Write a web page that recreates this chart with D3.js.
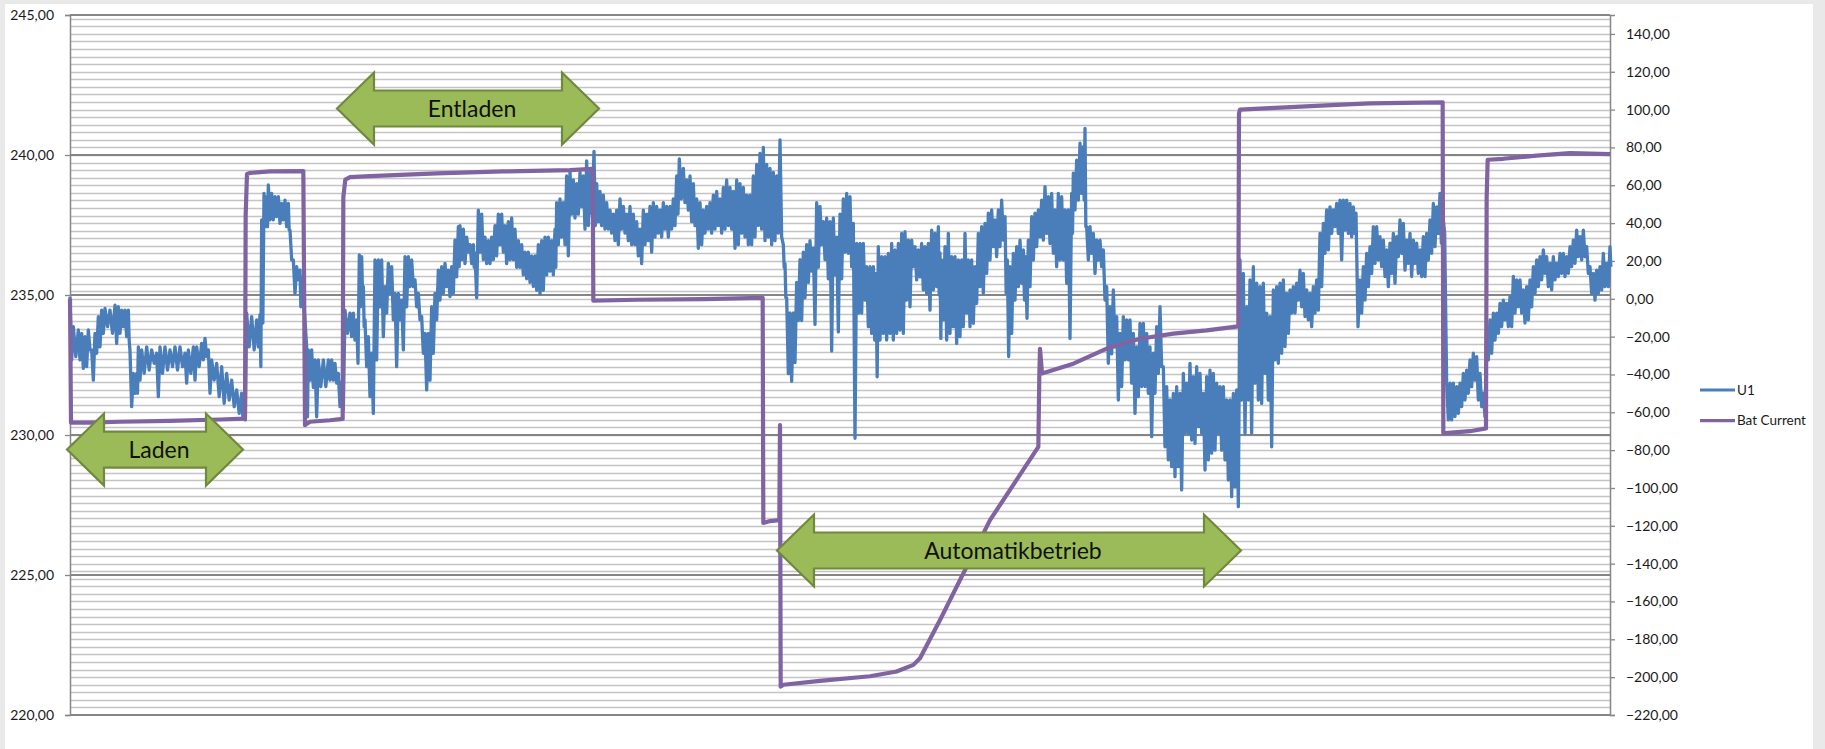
<!DOCTYPE html>
<html><head><meta charset="utf-8">
<script src="https://cdn.jsdelivr.net/npm/d3@7"></script>
<style>html,body{margin:0;padding:0;background:#e9e9e9;}svg{display:block}</style>
</head><body><svg id="c" width="1825" height="749"></svg>
<script>
// ---------- DATA ----------
const leftTicks = [220, 225, 230, 235, 240, 245];
const rightTicks = [-220,-200,-180,-160,-140,-120,-100,-80,-60,-40,-20,0,20,40,60,80,100,120,140];
const seriesNames = ["U1", "Bat Current"];
const sampleCount = 4620;

// U1 readings: [sample, upper envelope, lower envelope] (V)
const u1Readings = [
[0,234.94,232.68],[10,233.87,232.80],[25,233.75,232.68],[35,233.63,232.38],[45,233.51,232.44],[55,233.75,233.04],[65,233.04,231.96],[75,233.63,232.92],[85,234.23,233.15],[95,234.46,233.63],[105,234.52,233.87],[120,234.46,233.63],[135,234.64,233.27],[145,234.58,233.63],[155,234.46,233.87],[165,234.46,233.51],[175,234.46,233.39],[180,233.0,231.01],[190,232.20,231.49],[200,232.20,231.49],[205,233.15,231.96],[215,233.04,232.20],[230,233.15,232.32],[245,233.04,232.56],[260,232.92,231.37],[270,233.15,232.20],[285,233.15,232.32],[300,233.04,232.44],[315,233.15,232.32],[330,233.15,232.44],[345,232.92,231.85],[355,233.04,232.20],[370,233.15,231.96],[380,233.15,232.44],[395,233.27,232.68],[405,233.45,232.80],[415,233.04,231.49],[425,232.68,231.96],[440,232.56,231.37],[455,232.44,231.13],[470,232.20,231.25],[485,231.96,231.01],[500,231.61,230.77],[515,231.49,230.65],[522,231.3,230.54],
[530,234.35,233.15],[545,234.23,233.04],[560,234.11,233.15],[570,234.3,232.44],[575,237.68,234.0],[582,238.63,237.44],[590,238.51,237.44],[595,238.93,237.68],[605,238.63,237.68],[615,238.51,237.80],[625,238.51,237.56],[635,238.27,237.68],[645,238.39,237.44],[655,238.27,237.32],[660,237.32,236.25],[670,236.25,235.06],[680,236.01,235.54],[690,235.89,234.58],[695,235.65,234.58],
[710,233.15,230.65],[715,233.04,231.96],[725,233.04,231.70],[735,232.68,230.65],[745,232.68,231.73],[760,232.68,231.73],[775,232.68,231.96],[785,232.68,231.96],[795,232.56,231.85],[805,232.20,231.01],[815,231.90,230.89],
[825,234.46,233.63],[840,234.35,233.51],[850,234.35,233.39],[860,234.11,232.56],[868,236.43,234.58],[875,236.37,235.06],[880,235.30,233.87],[885,234.11,232.44],[895,233.51,231.37],[905,232.92,230.77],[915,236.25,232.68],[925,236.25,234.58],[935,236.25,233.51],[945,235.30,234.35],[955,236.13,235.06],[965,236.01,234.11],[975,235.06,232.44],[985,235.06,234.11],[995,234.82,233.04],[1005,236.37,234.58],[1015,236.37,235.30],[1025,236.25,235.30],[1035,235.54,234.58],[1045,235.06,234.11],[1055,234.23,232.92],[1065,233.63,231.61],[1075,233.63,231.96],[1085,234.58,232.92],[1095,235.06,234.11],[1105,235.89,234.82],[1115,236.01,235.06],[1125,236.13,235.30],[1135,235.89,234.94],[1145,236.01,235.06],[1155,236.96,235.65],[1165,237.44,236.01],
[1170,237.48,236.26],[1180,237.35,236.12],[1190,237.07,236.53],[1200,236.80,236.12],[1210,236.80,235.99],[1215,236.5,234.90],[1225,238.03,236.53],[1235,237.89,236.26],[1245,237.07,236.12],[1255,236.94,236.12],[1265,237.07,236.26],[1275,237.48,236.40],[1285,237.89,236.80],[1295,237.89,236.53],[1305,237.48,236.12],[1315,237.62,236.26],[1325,237.75,236.26],[1335,237.35,235.99],[1345,236.94,235.99],[1355,236.80,235.72],[1365,236.53,235.58],[1375,236.53,235.45],[1385,236.40,235.31],[1395,236.40,235.17],[1405,236.80,235.04],[1415,236.94,235.17],[1425,237.07,235.72],[1435,237.07,235.85],[1445,236.94,235.72],[1455,237.35,235.99],[1460,238.30,236.80],[1470,238.43,237.07],[1480,238.30,236.80],[1490,239.25,236.40],[1500,239.38,237.89],[1510,239.11,237.75],[1520,238.98,237.89],[1530,239.38,238.16],[1540,239.25,237.35],[1550,239.79,237.48],[1560,239.38,237.89],[1572,240.13,237.48],[1580,238.98,237.62],[1590,238.70,237.48],[1600,238.57,237.35],[1610,238.30,237.35],[1620,238.03,237.21],[1630,237.89,236.94],[1640,238.03,236.80],[1650,238.43,237.35],[1660,238.16,237.21],[1670,237.89,236.94],[1680,238.16,236.80],[1690,237.89,236.80],[1700,237.62,236.40],[1710,237.35,236.12],[1720,238.03,236.80],[1730,237.89,236.94],[1740,238.16,236.53],[1750,238.30,237.07],[1760,238.16,237.21],[1770,238.03,237.07],[1780,238.30,237.35],[1790,238.16,237.07],[1800,238.16,237.35],[1810,238.43,237.48],[1820,239.25,237.89],[1828,239.86,238.43],[1840,239.52,238.30],[1850,239.11,238.03],[1860,239.25,237.62],[1870,238.98,237.48],[1880,238.43,236.67],[1890,238.30,236.80],[1900,238.03,237.21],[1910,238.16,237.35],[1920,238.30,237.21],[1930,238.57,237.35],[1940,238.70,237.48],[1950,238.43,237.21],[1960,238.84,237.35],[1970,239.11,237.48],[1980,238.84,237.35],[1990,238.70,236.67],[2000,239.11,236.80],[2010,238.98,237.21],[2020,238.84,237.07],[2030,238.57,236.80],[2040,238.57,236.80],[2050,239.25,237.07],[2060,239.66,237.48],[2070,240.06,237.35],[2080,240.27,236.94],[2090,239.66,237.07],[2100,239.52,236.80],[2110,239.38,236.94],[2120,239.25,237.21],[2130,240.54,237.07],[2140,236.80,235.99],[2145,236.12,234.90],[2150,234.90,232.19],[2160,234.36,231.92],[2170,234.36,232.59],[2180,235.45,234.09],[2190,236.26,234.09],[2200,236.53,234.90],[2210,236.80,235.45],[2220,236.94,235.85],[2230,236.67,233.95],[2240,238.30,235.99],[2250,238.16,236.80],[2260,237.62,236.26],[2270,237.75,235.58],[2280,237.62,233.00],[2290,237.75,235.72],[2300,237.07,233.68],[2310,237.89,235.58],[2320,238.43,236.53],
[2330,238.63,236.49],[2340,238.51,236.01],[2350,237.56,229.88],[2360,236.84,234.35],[2370,236.84,234.35],[2380,236.84,234.82],[2390,236.01,233.87],[2400,236.01,233.63],[2410,236.01,233.39],[2418,235.77,232.08],[2425,236.73,233.39],[2435,236.37,233.63],[2445,236.37,233.39],[2455,236.49,233.63],[2465,236.84,233.39],[2475,236.61,233.63],[2485,236.84,233.75],[2495,237.20,233.63],[2505,237.26,234.82],[2515,236.96,234.58],[2525,236.96,236.01],[2535,236.73,235.54],[2545,236.61,235.65],[2555,236.84,235.18],[2565,236.73,235.06],[2575,236.84,234.46],[2585,237.32,235.18],[2595,237.20,235.30],[2605,237.44,235.0],[2610,236.5,233.45],[2615,236.25,234.11],[2625,236.73,233.39],[2635,237.20,233.63],[2645,236.37,233.87],[2655,236.37,233.27],[2665,236.25,233.51],[2675,236.25,233.87],[2685,237.20,234.35],[2695,236.25,233.87],[2705,236.25,233.99],[2715,236.01,234.70],[2725,237.20,235.30],[2735,237.44,235.06],[2745,237.56,235.77],[2755,237.92,236.25],[2765,238.04,236.73],[2775,237.68,236.37],[2785,238.04,236.73],[2795,238.39,236.96],[2805,237.80,235.06],[2812,236.25,232.80],[2820,236.01,233.63],[2830,236.49,234.82],[2840,236.73,235.30],[2850,236.96,235.42],[2860,236.61,234.82],[2867,236.37,234.17],[2875,236.96,235.30],[2885,237.80,236.25],[2895,237.92,236.73],[2905,238.04,237.08],[2915,238.39,236.96],[2925,238.87,237.20],[2935,238.51,236.84],[2945,238.63,236.49],[2955,238.04,236.01],[2965,238.63,236.25],[2975,238.51,236.25],[2985,238.04,235.42],[2995,238.04,233.45],[3005,238.63,237.20],[3010,239.35,238.04],[3020,239.82,238.39],[3030,240.42,238.63],[3040,240.30,238.39],[3045,240.95,237.44],[3050,237.44,236.25],[3060,237.44,236.49],[3070,237.20,235.77],[3080,236.96,236.25],[3090,236.96,236.01],[3100,236.61,234.82],[3110,235.30,232.56],[3120,234.58,232.90],[3130,235.18,233.15],[3140,234.23,231.25],[3150,233.63,231.73],[3160,234.23,232.68],[3170,234.11,232.68],[3180,234.11,231.85],[3190,233.63,230.77],[3200,233.15,231.37],[3210,233.99,231.73],[3220,233.99,231.73],[3230,233.63,231.49],[3240,233.15,229.94],[3250,232.92,231.49],[3260,233.87,232.20],[3270,234.58,232.44],[3280,232.44,229.58],[3290,231.73,229.11],[3300,231.25,228.87],[3310,231.49,228.51],[3320,231.73,228.87],[3330,231.49,228.04],[3340,232.20,230.06],[3350,231.85,230.06],[3360,232.56,229.82],[3370,232.08,229.70],[3380,232.44,230.30],[3390,232.20,230.06],[3400,231.49,228.75],[3410,232.08,229.11],[3420,232.32,229.35],[3430,232.20,229.46],[3440,231.85,230.06],[3450,231.73,229.46],[3460,231.73,229.11],[3470,231.25,228.39],[3480,231.25,227.80],[3490,231.49,228.15],[3500,231.61,227.44],[3510,236.25,231.25],[3520,235.77,230.06],[3530,234.58,231.25],[3540,235.54,230.06],[3550,236.01,231.85],
[3560,235.42,231.25],[3570,235.30,231.13],[3580,235.42,232.20],[3590,234.35,231.25],[3600,234.23,229.58],[3610,235.18,232.68],[3620,235.30,232.56],[3630,235.42,232.92],[3640,235.54,233.16],[3650,235.06,233.63],[3660,235.18,234.35],[3670,235.30,234.35],[3680,235.42,234.82],[3690,235.89,234.58],[3700,235.77,234.23],[3710,235.18,234.11],[3720,235.06,233.87],[3730,235.30,234.35],[3740,235.54,234.46],[3750,237.20,235.30],[3760,237.56,236.49],[3770,238.04,236.61],[3780,238.15,237.20],[3790,238.04,237.44],[3800,238.27,237.20],[3810,238.39,236.25],[3820,238.39,237.32],[3830,238.39,237.20],[3840,238.27,237.08],[3850,238.15,237.20],[3858,237.92,233.87],[3870,235.54,234.35],[3880,236.01,234.82],[3890,236.49,235.30],[3900,236.73,235.77],[3910,237.44,236.13],[3920,237.44,236.25],[3930,237.08,236.01],[3940,236.96,235.66],[3950,236.61,235.30],[3960,236.85,235.77],[3970,237.20,235.42],[3980,237.08,236.37],[3990,237.68,236.49],[4000,237.56,235.89],[4010,236.96,236.13],[4020,237.20,235.66],[4030,236.96,236.13],[4040,236.85,235.77],[4050,236.61,235.66],[4060,237.08,235.66],[4070,237.20,236.25],[4080,237.68,236.49],[4090,238.27,236.73],[4100,238.15,237.20],[4110,238.63,236.85],[4118,237.92,237.20],
[4130,231.85,230.54],[4140,231.85,230.54],[4150,231.85,230.66],[4160,231.73,230.77],[4170,231.85,231.01],[4180,232.20,231.25],[4190,232.32,231.49],[4200,232.68,231.73],[4210,232.92,231.96],[4220,232.80,231.25],[4230,232.20,231.01],[4240,231.49,230.66],
[4250,233.87,232.68],[4260,234.11,232.92],[4270,234.35,233.39],[4280,234.35,233.63],[4290,234.70,233.87],[4300,234.82,234.11],[4310,234.70,233.87],[4320,234.94,233.87],[4330,235.66,234.35],[4340,235.54,234.58],[4350,235.54,234.35],[4360,235.18,234.00],[4370,235.30,234.11],[4380,235.54,234.58],[4390,236.01,235.06],[4400,236.25,235.30],[4410,236.37,235.54],[4420,236.61,235.77],[4430,236.37,235.30],[4440,236.13,235.18],[4450,236.37,235.54],[4460,236.13,235.66],[4470,236.49,235.77],[4480,236.49,235.66],[4490,236.37,235.77],[4500,236.73,236.01],[4510,236.96,236.13],[4520,237.32,236.37],[4530,237.08,236.25],[4540,237.32,236.37],[4550,236.73,235.77],[4560,236.01,235.06],[4570,235.77,234.82],[4580,235.89,235.06],[4590,236.01,235.18],[4600,236.49,235.30],[4610,236.13,235.30],[4620,236.73,236.01]
];

// Bat Current readings: [sample, current (A)]
const batReadings = [
[0,0],[3,-65.5],[60,-65.5],[150,-65],[300,-64.5],[450,-63.8],[525,-63.3],[527,44],[531,66],[540,66.5],[600,67.3],[700,67.5],
[705,-66.8],[707,-66.5],[720,-65],[780,-64.2],[818,-63.5],[820,53.7],[826,63],[840,64.3],[900,64.8],[1100,66.3],[1300,67.3],[1500,68],[1568,68.7],
[1570,-1.0],[1700,-0.5],[1900,-0.2],[2078,0.5],[2080,-118.5],[2100,-117.5],[2128,-117],[2130,-66.8],[2132,-205],[2140,-204],[2250,-202],[2400,-199.5],[2480,-197],[2530,-193.5],[2550,-190],[2610,-169.8],[2760,-117],[2905,-78.3],
[2908,-40],[2910,-26.4],[2916,-39.5],[3010,-34.3],[3110,-26.3],[3210,-21.1],[3310,-18.4],[3410,-16.7],[3505,-14.6],
[3507,98],[3510,100],[3600,100.8],[3800,102.5],[3900,103.3],[4000,103.5],[4118,103.8],
[4120,-71.2],[4125,-71],[4200,-70],[4248,-68.5],[4250,53.7],[4253,73.5],[4300,74],[4400,75.7],[4500,77],[4620,76.5]
];

// Annotation arrows: label, start sample, end sample, centre (left axis V)
const arrowLabels = ["Entladen", "Laden", "Automatikbetrieb"];
const arrowStart = [801, -9, 2121];
const arrowEnd = [1587, 519, 3513];
const arrowLevel = [241.66, 229.48, 225.875];

// ---------- DRAW ----------
const W = 1825, H = 749;
const M = {left: 70, right: 1610, top: 15, bottom: 715};
const svg = d3.select("#c");
const loc = d3.formatLocale({decimal: ",", thousands: ".", grouping: [3], currency: ["", "€"]});
const fmt = loc.format(".2f");
const font = "Lato, 'Open Sans', sans-serif";
const colU1 = "#4a7ebb", colBat = "#8064a2";

const x = d3.scaleLinear().domain([0, sampleCount]).range([M.left, M.right]);
const yL = d3.scaleLinear().domain([220, 245]).range([M.bottom, M.top]);
const yR = d3.scaleLinear().domain([-220, 150]).range([M.bottom, M.top]);

svg.append("rect").attr("x", 5).attr("y", 4).attr("width", 1808).attr("height", H - 4).attr("fill", "#fff");

// minor gridlines (secondary axis, every 4 A)
const minor = d3.range(-216, 150, 4);
svg.append("g").selectAll("line").data(minor).join("line")
  .attr("x1", M.left).attr("x2", M.right)
  .attr("y1", d => Math.round(yR(d)) + 0.5).attr("y2", d => Math.round(yR(d)) + 0.5)
  .attr("stroke", "#c4c4c4").attr("stroke-width", 1.3);
// major gridlines (primary axis)
svg.append("g").selectAll("line").data(leftTicks).join("line")
  .attr("x1", M.left).attr("x2", M.right)
  .attr("y1", d => yL(d)).attr("y2", d => yL(d))
  .attr("stroke", "#858585").attr("stroke-width", 1.8);

// axes
const axL = svg.append("g").attr("transform", `translate(${M.left},0)`)
  .call(d3.axisLeft(yL).tickValues(leftTicks).tickSize(5).tickPadding(11).tickFormat(fmt));
const axR = svg.append("g").attr("transform", `translate(${M.right},0)`)
  .call(d3.axisRight(yR).tickValues(rightTicks).tickSize(5).tickPadding(11).tickFormat(fmt));
[axL, axR].forEach(a => {
  a.select(".domain").attr("stroke", "#868686").attr("stroke-width", 1.5);
  a.selectAll(".tick line").attr("stroke", "#868686").attr("stroke-width", 1.3);
  a.selectAll("text").attr("fill", "#1a1a1a").style("font-family", font).style("font-size", "14px");
});

// U1 line: zig-zag through the upper and lower envelope readings
const u1Pts = [];
u1Readings.forEach((r, i) => {
  const next = i < u1Readings.length - 1 ? u1Readings[i + 1][0] : r[0] + 5;
  u1Pts.push([r[0], r[1]]);
  u1Pts.push([(r[0] + next) / 2, r[2]]);
});
svg.append("path").datum(u1Pts)
  .attr("d", d3.line().x(d => x(d[0])).y(d => yL(d[1])))
  .attr("fill", "none").attr("stroke", colU1).attr("stroke-width", 3.3).attr("stroke-linejoin", "round");

svg.append("path").datum(batReadings)
  .attr("d", d3.line().x(d => x(d[0])).y(d => yR(d[1])))
  .attr("fill", "none").attr("stroke", colBat).attr("stroke-width", 4.2).attr("stroke-linejoin", "round");

// arrows
const headLen = 37, headHalf = 36, shaftHalf = 18;
arrowLabels.forEach((lab, i) => {
  const x0 = x(arrowStart[i]), x1 = x(arrowEnd[i]), cy = yL(arrowLevel[i]);
  const p = [[x0, cy], [x0 + headLen, cy - headHalf], [x0 + headLen, cy - shaftHalf],
    [x1 - headLen, cy - shaftHalf], [x1 - headLen, cy - headHalf], [x1, cy],
    [x1 - headLen, cy + headHalf], [x1 - headLen, cy + shaftHalf], [x0 + headLen, cy + shaftHalf],
    [x0 + headLen, cy + headHalf]];
  svg.append("path").attr("d", "M" + p.map(q => q.join(",")).join("L") + "Z")
    .attr("fill", "#9bbb59").attr("stroke", "#71893f").attr("stroke-width", 2.2).attr("stroke-linejoin", "miter");
  svg.append("text").attr("x", (x0 + x1) / 2 + 4).attr("y", cy + 8)
    .attr("text-anchor", "middle").attr("fill", "#111")
    .style("font-family", font).style("font-size", "23px").text(lab);
});

// legend
const lg = svg.append("g");
const legendColors = [colU1, colBat];
seriesNames.forEach((n, i) => {
  const ly = 390 + i * 30.7;
  lg.append("line").attr("x1", 1700).attr("x2", 1735).attr("y1", ly).attr("y2", ly)
    .attr("stroke", legendColors[i]).attr("stroke-width", 3.2);
  lg.append("text").attr("x", 1737).attr("y", ly + 4.5).attr("fill", "#1a1a1a")
    .style("font-family", font).style("font-size", "13.5px").text(n);
});
</script></body></html>
